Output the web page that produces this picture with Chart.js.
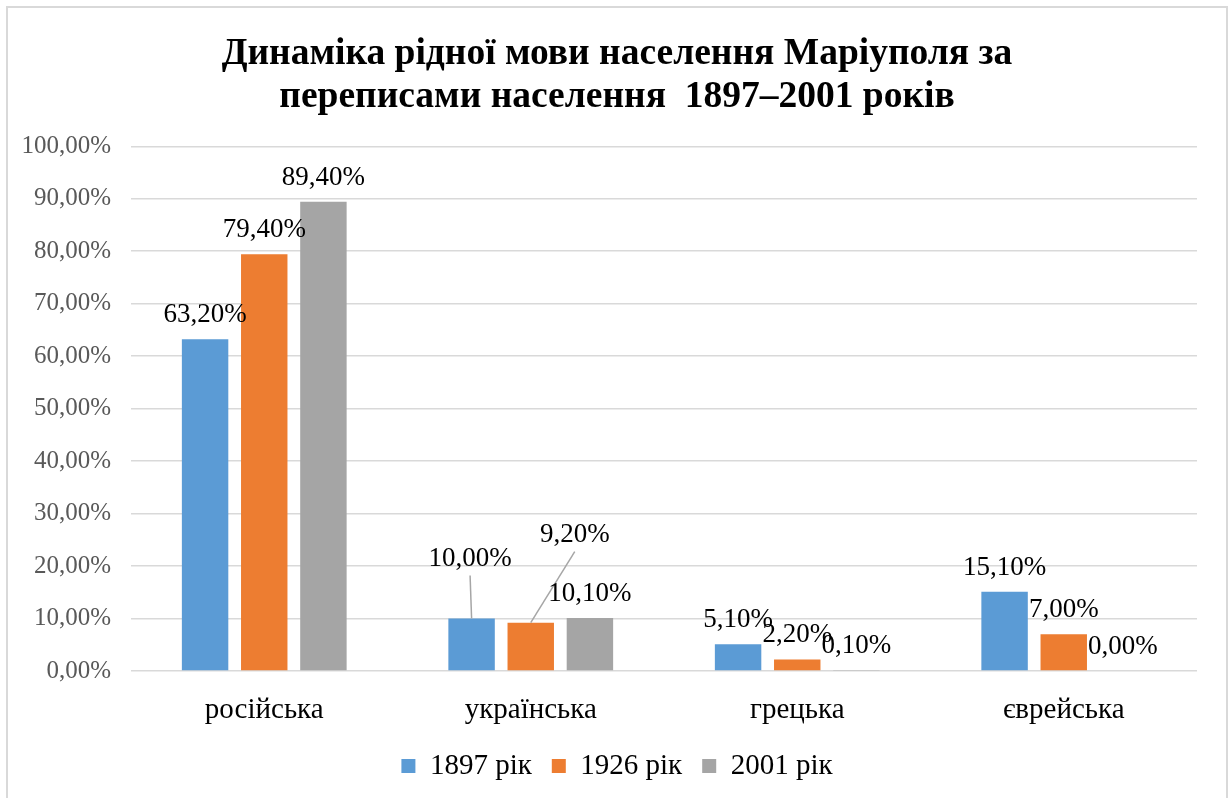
<!DOCTYPE html>
<html lang="uk">
<head>
<meta charset="utf-8">
<title>Динаміка рідної мови населення Маріуполя</title>
<script src="https://cdn.jsdelivr.net/npm/chart.js@4.4.1/dist/chart.umd.min.js"></script>
<style>
  html, body { margin: 0; padding: 0; background: #fff; }
  body { width: 1229px; height: 798px; overflow: hidden; position: relative; }
  .frame {
    position: absolute; left: 6px; top: 6px; width: 1218px; height: 800px;
    border: 2px solid #d9d9d9; border-bottom: none;
  }
  .frame canvas { position: absolute; left: 0; top: 0; }
</style>
</head>
<body>
<div class="frame">
  <canvas id="chart" width="1218" height="790"></canvas>
</div>
<script>
// Мови та частки населення (%) за переписами
const languages = ["російська", "українська", "грецька", "єврейська"];
const seriesNames = ["1897 рік", "1926 рік", "2001 рік"];
const share1897 = [63.2, 10.0, 5.1, 15.1];
const share1926 = [79.4, 9.2, 2.2, 7.0];
const share2001 = [89.4, 10.1, 0.1, 0.0];
const seriesColors = ["#5b9bd5", "#ed7d31", "#a5a5a5"];

// Зсуви підписів, що винесені вбік і з'єднані лінією зі стовпцем
const labelNudge = {
  "0-1": { dx: -1.5, dy: -36 },
  "1-1": { dx: 44, dy: -64 }
};

const fmt = (v) => v.toFixed(2).replace(".", ",") + "%";
const SERIF = "'Liberation Serif', 'Times New Roman', serif";

// Підписи значень над стовпцями
const valueLabels = {
  id: "valueLabels",
  afterDatasetsDraw(chart) {
    const ctx = chart.ctx;
    ctx.save();
    ctx.font = "27px " + SERIF;
    ctx.textAlign = "center";
    ctx.textBaseline = "alphabetic";
    chart.data.datasets.forEach((ds, di) => {
      const meta = chart.getDatasetMeta(di);
      meta.data.forEach((bar, i) => {
        const nudge = labelNudge[di + "-" + i];
        const x = bar.x + (nudge ? nudge.dx : 0);
        const y = bar.y - 17 + (nudge ? nudge.dy : 0);
        if (nudge) {
          ctx.strokeStyle = "#a6a6a6";
          ctx.lineWidth = 1.5;
          ctx.beginPath();
          ctx.moveTo(x, y + 10);
          ctx.lineTo(bar.x, bar.y);
          ctx.stroke();
        }
        ctx.fillStyle = "#000";
        ctx.fillText(fmt(ds.data[i]), x, y);
      });
    });
    ctx.restore();
  }
};

new Chart(document.getElementById("chart"), {
  type: "bar",
  data: {
    labels: languages,
    datasets: [share1897, share1926, share2001].map((d, k) => ({
      label: seriesNames[k],
      data: d,
      backgroundColor: seriesColors[k],
      borderWidth: 0,
      categoryPercentage: 0.666,
      barPercentage: 0.785
    }))
  },
  options: {
    responsive: false,
    animation: false,
    layout: { padding: { left: 0, right: 0, top: 0, bottom: 7.5 } },
    plugins: {
      title: {
        display: true,
        text: ["Динаміка рідної мови населення Маріуполя за", "переписами населення  1897–2001 років"],
        color: "#000",
        font: { family: SERIF, size: 37.5, weight: "bold", lineHeight: 1.15 },
        padding: { top: 25, bottom: 27 }
      },
      legend: {
        position: "bottom",
        labels: {
          color: "#000",
          font: { family: SERIF, size: 29 },
          boxWidth: 14,
          boxHeight: 14,
          padding: 20
        }
      },
      tooltip: { enabled: false }
    },
    scales: {
      x: {
        grid: { display: false },
        border: { display: false },
        ticks: { color: "#000", font: { family: SERIF, size: 29 }, padding: 14 },
        afterFit: (scale) => { scale.height = 60.5; }
      },
      y: {
        min: 0,
        max: 100,
        grid: { color: "#d9d9d9", lineWidth: 1.5, drawTicks: false },
        border: { display: false },
        ticks: {
          stepSize: 10,
          color: "#595959",
          font: { family: SERIF, size: 25 },
          padding: 20,
          callback: (v) => fmt(v)
        },
        afterFit: (scale) => { scale.width = 123; }
      },
      // порожня права вісь лише тримає відступ від рамки
      yRight: {
        position: "right",
        grid: { display: false },
        border: { display: false },
        ticks: { display: false },
        afterFit: (scale) => { scale.width = 29; }
      }
    }
  },
  plugins: [valueLabels]
});
</script>
</body>
</html>
